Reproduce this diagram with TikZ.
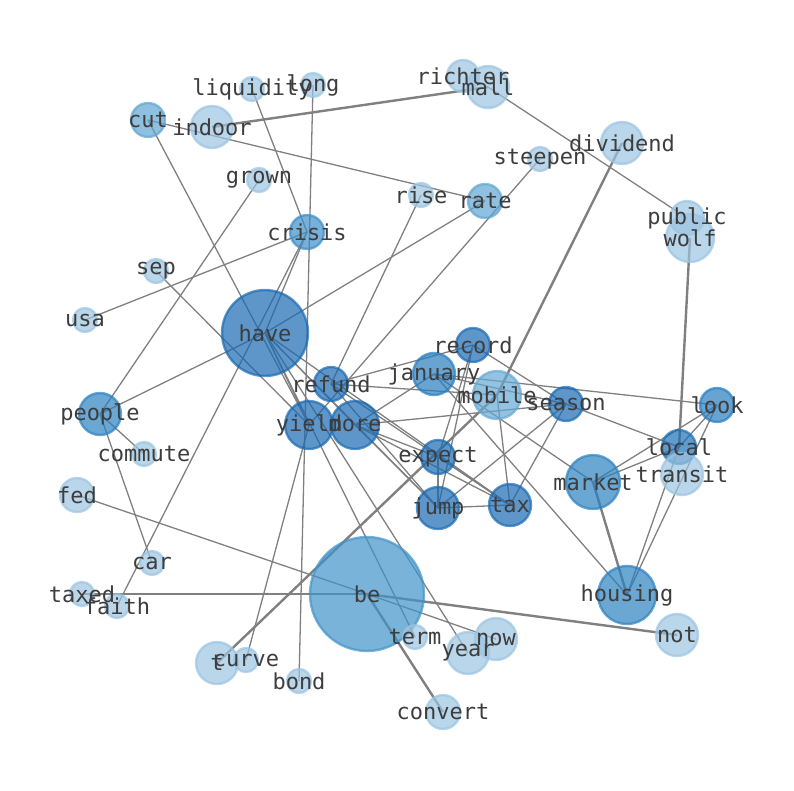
\documentclass[tikz,border=0pt]{standalone}
\usepackage{fontspec}
\newfontfamily\wordfont{DejaVu Sans Mono}
\usetikzlibrary{backgrounds}
\definecolor{pale}{HTML}{9CC4E1}
\definecolor{mobilec}{HTML}{65A9D3}
\definecolor{ratec}{HTML}{5FA5D1}
\definecolor{crisisc}{HTML}{3D8EC7}
\definecolor{bec}{HTML}{4193C9}
\definecolor{mid}{HTML}{2C81C0}
\definecolor{janc}{HTML}{287DBF}
\definecolor{localc}{HTML}{1B70B8}
\definecolor{deep}{HTML}{1A6AB2}
\begin{document}
\begin{tikzpicture}[x=1pt,y=-1pt,
	bub/.style 2 args={circle,inner sep=0pt,minimum size=#2pt,fill=#1,draw=#1,
		line width=2.4pt,fill opacity=0.7,draw opacity=0.7},
	word/.style={font=\fontsize{22}{22}\selectfont\wordfont,text=black!76,inner sep=0pt},
	link/.style={draw=gray,line width=1.3pt},
	heavylink/.style={draw=gray,line width=2.4pt}]
	\useasboundingbox (0,0) rectangle (794,790);

	%discs
	\node[bub={pale}{42}] (indoor) at (212,127) {};
	\node[bub={ratec}{34}] (cut) at (148,120) {};
	\node[bub={pale}{24}] (liquidity) at (252,89) {};
	\node[bub={pale}{24}] (long) at (313,85) {};
	\node[bub={pale}{32}] (richter) at (463,76) {};
	\node[bub={pale}{42}] (mall) at (488,87) {};
	\node[bub={pale}{42}] (dividend) at (622,143) {};
	\node[bub={pale}{24}] (steepen) at (540,159) {};
	\node[bub={pale}{24}] (rise) at (421,195) {};
	\node[bub={ratec}{34}] (rate) at (485,201) {};
	\node[bub={pale}{24}] (grown) at (259,180) {};
	\node[bub={crisisc}{34}] (crisis) at (307,232) {};
	\node[bub={pale}{24}] (sep) at (156,271) {};
	\node[bub={pale}{24}] (usa) at (85,320) {};
	\node[bub={pale}{34}] (public) at (687,218) {};
	\node[bub={pale}{48}] (wolf) at (690,238) {};
	\node[bub={deep}{86}] (have) at (265,333) {};
	\node[bub={deep}{34}] (record) at (473,345) {};
	\node[bub={janc}{42}] (january) at (434,374) {};
	\node[bub={mobilec}{48}] (mobile) at (497,395) {};
	\node[bub={deep}{34}] (season) at (566,404) {};
	\node[bub={janc}{34}] (look) at (717,405) {};
	\node[bub={deep}{34}] (refund) at (331,384) {};
	\node[bub={deep}{48}] (yield) at (309,425) {};
	\node[bub={deep}{48}] (more) at (355,425) {};
	\node[bub={deep}{34}] (expect) at (438,457) {};
	\node[bub={deep}{42}] (jump) at (438,508) {};
	\node[bub={deep}{42}] (tax) at (510,505) {};
	\node[bub={localc}{34}] (local) at (679,447) {};
	\node[bub={pale}{42}] (transit) at (682,474) {};
	\node[bub={mid}{54}] (market) at (593,482) {};
	\node[bub={mid}{58}] (housing) at (627,595) {};
	\node[bub={mid}{42}] (people) at (100,414) {};
	\node[bub={pale}{24}] (commute) at (144,454) {};
	\node[bub={pale}{34}] (fed) at (77,495) {};
	\node[bub={pale}{24}] (car) at (152,563) {};
	\node[bub={pale}{24}] (taxed) at (82,594) {};
	\node[bub={pale}{24}] (faith) at (117,606) {};
	\node[bub={bec}{114}] (be) at (367,594) {};
	\node[bub={pale}{42}] (t) at (217,663) {};
	\node[bub={pale}{24}] (curve) at (246,660) {};
	\node[bub={pale}{24}] (bond) at (299,681) {};
	\node[bub={pale}{24}] (term) at (415,637) {};
	\node[bub={pale}{42}] (year) at (468,653) {};
	\node[bub={pale}{42}] (now) at (496,639) {};
	\node[bub={pale}{42}] (not) at (677,635) {};
	\node[bub={pale}{34}] (convert) at (443,712) {};

	%links
	\begin{scope}[on background layer]
	\draw[link] (cut.center) -- (rate.center);
	\draw[link] (cut.center) -- (yield.center);
	\draw[link] (liquidity.center) -- (crisis.center);
	\draw[link] (long.center) -- (bond.center);
	\draw[link] (grown.center) -- (people.center);
	\draw[link] (crisis.center) -- (usa.center);
	\draw[link] (sep.center) -- (yield.center);
	\draw[link] (crisis.center) -- (have.center);
	\draw[link] (crisis.center) -- (faith.center);
	\draw[link] (rate.center) -- (have.center);
	\draw[link] (have.center) -- (people.center);
	\draw[link] (rise.center) -- (refund.center);
	\draw[link] (steepen.center) -- (yield.center);
	\draw[link] (mall.center) -- (public.center);
	\draw[link] (have.center) -- (yield.center);
	\draw[link] (have.center) -- (more.center);
	\draw[link] (have.center) -- (jump.center);
	\draw[link] (have.center) -- (tax.center);
	\draw[link] (have.center) -- (term.center);
	\draw[link] (have.center) -- (year.center);
	\draw[link] (refund.center) -- (record.center);
	\draw[link] (refund.center) -- (mobile.center);
	\draw[link] (refund.center) -- (tax.center);
	\draw[link] (refund.center) -- (jump.center);
	\draw[link] (more.center) -- (january.center);
	\draw[link] (more.center) -- (season.center);
	\draw[link] (more.center) -- (jump.center);
	\draw[link] (more.center) -- (tax.center);
	\draw[link] (more.center) -- (expect.center);
	\draw[link] (record.center) -- (expect.center);
	\draw[link] (record.center) -- (jump.center);
	\draw[link] (record.center) -- (season.center);
	\draw[link] (january.center) -- (look.center);
	\draw[link] (january.center) -- (season.center);
	\draw[link] (january.center) -- (market.center);
	\draw[link] (january.center) -- (housing.center);
	\draw[link] (mobile.center) -- (tax.center);
	\draw[link] (season.center) -- (jump.center);
	\draw[link] (season.center) -- (tax.center);
	\draw[link] (season.center) -- (local.center);
	\draw[link] (expect.center) -- (jump.center);
	\draw[link] (expect.center) -- (tax.center);
	\draw[link] (jump.center) -- (tax.center);
	\draw[link] (look.center) -- (local.center);
	\draw[link] (look.center) -- (market.center);
	\draw[link] (look.center) -- (housing.center);
	\draw[link] (local.center) -- (market.center);
	\draw[link] (local.center) -- (housing.center);
	\draw[link] (people.center) -- (car.center);
	\draw[link] (people.center) -- (commute.center);
	\draw[link] (fed.center) -- (be.center);
	\draw[link] (be.center) -- (now.center);
	\draw[link] (yield.center) -- (curve.center);
	%heavy links
	\draw[heavylink] (indoor.center) -- (mall.center);
	\draw[heavylink] (dividend.center) -- (mobile.center);
	\draw[heavylink] (mobile.center) -- (t.center);
	\draw[heavylink] (wolf.center) -- (local.center);
	\draw[heavylink] (taxed.center) -- (be.center);
	\draw[heavylink] (be.center) -- (not.center);
	\draw[heavylink] (be.center) -- (convert.center);
	\draw[heavylink] (market.center) -- (housing.center);
	\end{scope}

	%words
	\node[word] (indoor-w) at (indoor) {indoor};
	\node[word] (cut-w) at (cut) {cut};
	\node[word] (liquidity-w) at (liquidity) {liquidity};
	\node[word] (long-w) at (long) {long};
	\node[word] (richter-w) at (richter) {richter};
	\node[word] (mall-w) at (mall) {mall};
	\node[word] (dividend-w) at (dividend) {dividend};
	\node[word] (steepen-w) at (steepen) {steepen};
	\node[word] (rise-w) at (rise) {rise};
	\node[word] (rate-w) at (rate) {rate};
	\node[word] (grown-w) at (grown) {grown};
	\node[word] (crisis-w) at (crisis) {crisis};
	\node[word] (sep-w) at (sep) {sep};
	\node[word] (usa-w) at (usa) {usa};
	\node[word] (public-w) at (public) {public};
	\node[word] (wolf-w) at (wolf) {wolf};
	\node[word] (have-w) at (have) {have};
	\node[word] (record-w) at (record) {record};
	\node[word] (january-w) at (january) {january};
	\node[word] (mobile-w) at (mobile) {mobile};
	\node[word] (season-w) at (season) {season};
	\node[word] (look-w) at (look) {look};
	\node[word] (refund-w) at (refund) {refund};
	\node[word] (yield-w) at (yield) {yield};
	\node[word] (more-w) at (more) {more};
	\node[word] (expect-w) at (expect) {expect};
	\node[word] (jump-w) at (jump) {jump};
	\node[word] (tax-w) at (tax) {tax};
	\node[word] (local-w) at (local) {local};
	\node[word] (transit-w) at (transit) {transit};
	\node[word] (market-w) at (market) {market};
	\node[word] (housing-w) at (housing) {housing};
	\node[word] (people-w) at (people) {people};
	\node[word] (commute-w) at (commute) {commute};
	\node[word] (fed-w) at (fed) {fed};
	\node[word] (car-w) at (car) {car};
	\node[word] (taxed-w) at (taxed) {taxed};
	\node[word] (faith-w) at (faith) {faith};
	\node[word] (be-w) at (be) {be};
	\node[word] (t-w) at (t) {t};
	\node[word] (curve-w) at (curve) {curve};
	\node[word] (bond-w) at (bond) {bond};
	\node[word] (term-w) at (term) {term};
	\node[word] (year-w) at (year) {year};
	\node[word] (now-w) at (now) {now};
	\node[word] (not-w) at (not) {not};
	\node[word] (convert-w) at (convert) {convert};
\end{tikzpicture}
\end{document}
